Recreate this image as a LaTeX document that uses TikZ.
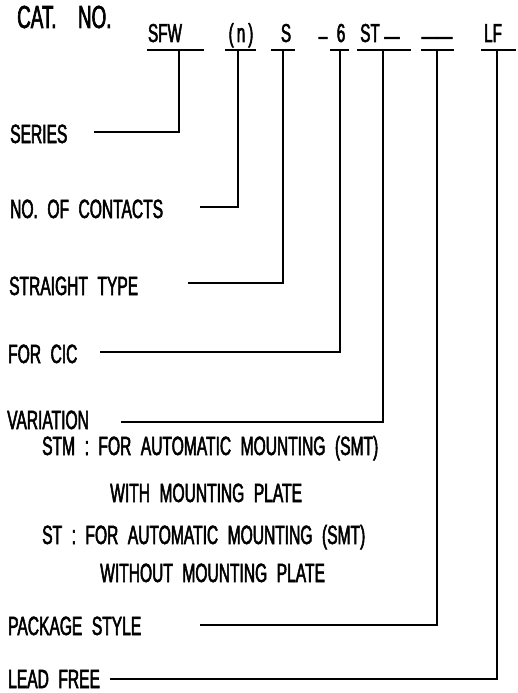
\documentclass[tikz,border=0pt]{standalone}
\usepackage{fontspec}
\setmainfont[FakeStretch=0.59,WordSpace=2.2,FakeBold=2]{Liberation Sans}
\begin{document}
\begin{tikzpicture}[x=1bp,y=-1bp,
  txt/.style={anchor=base west,inner sep=0pt,font=\fontsize{26.5}{30}\selectfont},
  big/.style={anchor=base west,inner sep=0pt,font=\fontsize{32}{36}\selectfont},
  cd/.style={anchor=base,inner sep=0pt,font=\fontsize{26}{30}\selectfont},
  ln/.style={line width=1.3bp}]
\useasboundingbox (0,0) rectangle (518,693);
% header
\node[big] (cat) at (17,28) {CAT.\hspace{10bp} NO.};
\node[cd] (sfw) at (165,42) {SFW};
\node[cd] (nn) at (241,42) {(\hspace{3bp}n\hspace{3bp})};
\node[cd] (ss) at (286,42) {S};
\node[cd] (d1) at (323,44.5) {–};
\node[cd] (six) at (341,42) {6};
\node[cd] (st) at (370,42) {ST};
\node[cd] (d2) at (392,44.5) {—};
\node[cd] (d3) at (437,44.5) {——};
\node[cd] (lf) at (493,42) {LF};
% underlines
\coordinate (a1) at (147,50); \coordinate (z1) at (204,50);
\coordinate (a2) at (225,50); \coordinate (z2) at (256,50);
\coordinate (a3) at (271,50); \coordinate (z3) at (295,50);
\coordinate (a4) at (330,50); \coordinate (z4) at (349,50);
\coordinate (a5) at (357,50); \coordinate (z5) at (411,50);
\coordinate (a6) at (421,50); \coordinate (z6) at (454,50);
\coordinate (a7) at (481,50); \coordinate (z7) at (516,50);
\foreach \i in {1,...,7} {\draw[ln] (a\i) -- (z\i);}
% bar tops
\coordinate (b1) at (179,50);
\coordinate (b2) at (238,50);
\coordinate (b3) at (283,50);
\coordinate (b4) at (340,50);
\coordinate (b5) at (383,50);
\coordinate (b6) at (437,50);
\coordinate (b7) at (497,50);
% labels
\node[txt] (series) at (10,143) {SERIES};
\node[txt] (contacts) at (10,218) {NO. OF CONTACTS};
\node[txt] (straight) at (9,295) {STRAIGHT TYPE};
\node[txt] (cic) at (8,363) {FOR CIC};
\node[txt] (variation) at (7,429) {VARIATION};
\node[txt] (stm) at (42,455) {STM : FOR AUTOMATIC MOUNTING (SMT)};
\node[txt] (with) at (110,502) {WITH MOUNTING PLATE};
\node[txt] (stl) at (42,544) {ST : FOR AUTOMATIC MOUNTING (SMT)};
\node[txt] (without) at (100,582) {WITHOUT MOUNTING PLATE};
\node[txt] (package) at (8,635) {PACKAGE STYLE};
\node[txt] (lead) at (8,688) {LEAD FREE};
% connector ends
\coordinate (e1) at (94,132);
\coordinate (e2) at (200,207);
\coordinate (e3) at (188,283);
\coordinate (e4) at (100,352);
\coordinate (e5) at (121,422);
\coordinate (e6) at (200,625);
\coordinate (e7) at (110,679);
\foreach \i in {1,...,7} {\draw[ln] (b\i) |- (e\i);}
\end{tikzpicture}
\end{document}
